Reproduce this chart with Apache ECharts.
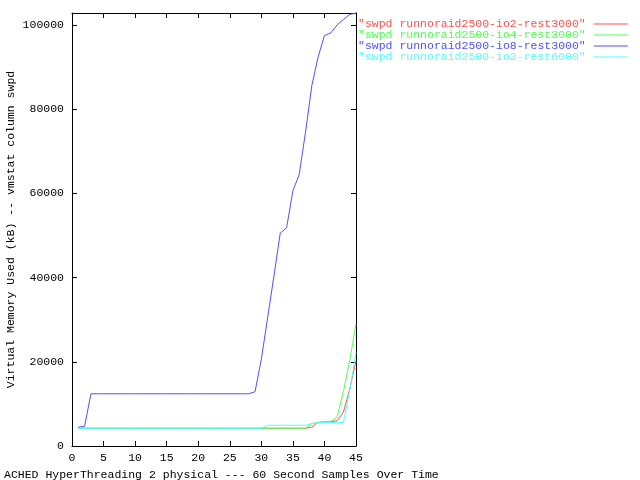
<!DOCTYPE html>
<html>
<head>
<meta charset="utf-8">
<script src="https://cdn.jsdelivr.net/npm/echarts@6/dist/echarts.min.js"></script>
<style>html,body{margin:0;padding:0;background:#fff;}#c{width:640px;height:480px;}</style>
</head>
<body>
<div id="c"></div>
<script>
const samples = [1,2,3,4,5,6,7,8,9,10,11,12,13,14,15,16,17,18,19,20,21,22,23,24,25,26,27,28,29,30,31,32,33,34,35,36,37,38,39,40,41,42,43,44,45];
const seriesNames = [
  '"swpd runnoraid2500-io2-rest3000"',
  '"swpd runnoraid2500-io4-rest3000"',
  '"swpd runnoraid2500-io8-rest3000"',
  '"swpd runnoraid2500-io2-rest6000"'
];
const io2rest3000 = [4210,4210,4210,4210,4210,4210,4210,4210,4210,4210,4210,4210,4210,4210,4210,4210,4210,4210,4210,4210,4210,4210,4210,4210,4210,4210,4210,4210,4210,4210,4210,4210,4210,4210,4210,4210,4210,4500,5600,5700,5800,6000,8000,13500,20200];
const io4rest3000 = [4210,4210,4210,4210,4210,4210,4210,4210,4210,4210,4210,4210,4210,4210,4210,4210,4210,4210,4210,4210,4210,4210,4210,4210,4210,4210,4210,4210,4210,4210,4210,4210,4210,4210,4210,4210,4210,5300,5600,5700,5850,6800,12900,20300,29000];
const io8rest3000 = [4450,4700,12400,12400,12400,12400,12400,12400,12400,12400,12400,12400,12400,12400,12400,12400,12400,12400,12400,12400,12400,12400,12400,12400,12400,12400,12400,12400,12900,20600,30500,40400,50600,51800,60600,64500,74500,85600,92400,97500,98100,100000,101300,102500,102850];
const io2rest6000 = [4210,4210,4210,4210,4210,4210,4210,4210,4210,4210,4210,4210,4210,4210,4210,4210,4210,4210,4210,4210,4210,4210,4210,4210,4210,4210,4210,4210,4210,4210,4930,4930,4930,4930,4930,4930,4930,5350,5500,5550,5550,5550,5600,13100,22200];
const colors = ['#ff5050', '#50ff50', '#5050ff', '#50ffff'];
const yTitle = 'Virtual Memory Used (kB) -- vmstat column swpd';
const xTitle = 'ACHED HyperThreading 2 physical --- 60 Second Samples Over Time';

const FONT = 'Liberation Mono';
const FS = 11.5;
const allValues = [io2rest3000, io4rest3000, io8rest3000, io2rest6000];

const chart = echarts.init(document.getElementById('c'), null, {renderer: 'canvas'});
const axisCommon = {
  axisLine: {show: true, onZero: false, lineStyle: {color: '#000', width: 1}},
  axisTick: {show: true, inside: true, length: 5, lineStyle: {color: '#000', width: 1}},
  splitLine: {show: false}
};
chart.setOption({
  animation: false,
  backgroundColor: '#fff',
  textStyle: {fontFamily: FONT, fontSize: FS, color: '#000'},
  title: {
    text: xTitle, left: -1, top: 464,
    textStyle: {fontFamily: FONT, fontSize: FS, fontWeight: 'normal', color: '#000'}
  },
  legend: {
    orient: 'vertical', left: 353, top: 13, align: 'right',
    icon: 'rect', itemWidth: 34, itemHeight: 1, itemGap: -1,
    textStyle: {fontFamily: FONT, fontSize: FS, lineHeight: 11, padding: [0, 3, 0, 0]},
    data: seriesNames.map((n, i) => ({name: n, icon: 'rect', itemStyle: {color: colors[i]}, textStyle: {color: colors[i]}}))
  },
  grid: {left: 72, right: 284, top: 13, bottom: 34},
  xAxis: [
    Object.assign({type: 'value', min: 0, max: 45, interval: 5, position: 'bottom',
      axisLabel: {color: '#000', fontFamily: FONT, fontSize: FS, margin: 6}}, axisCommon),
    Object.assign({type: 'value', min: 0, max: 45, interval: 5, position: 'top',
      axisLabel: {show: false}}, axisCommon)
  ],
  yAxis: [
    Object.assign({type: 'value', min: 0, max: 102850, interval: 20000, position: 'left',
      name: yTitle, nameLocation: 'middle', nameRotate: 90, nameGap: 55,
      nameTextStyle: {fontFamily: FONT, fontSize: FS, color: '#000'},
      axisLabel: {color: '#000', fontFamily: FONT, fontSize: FS, margin: 8, showMaxLabel: false,
        formatter: v => String(v)}}, axisCommon),
    Object.assign({type: 'value', min: 0, max: 102850, interval: 20000, position: 'right',
      axisLabel: {show: false}}, axisCommon)
  ],
  series: seriesNames.map((n, i) => ({
    name: n, type: 'line', symbol: 'none', showSymbol: false,
    xAxisIndex: 0, yAxisIndex: 0,
    lineStyle: {color: colors[i], width: 1},
    itemStyle: {color: colors[i]},
    data: samples.map((x, k) => [x, allValues[i][k]])
  }))
});
</script>
</body>
</html>
